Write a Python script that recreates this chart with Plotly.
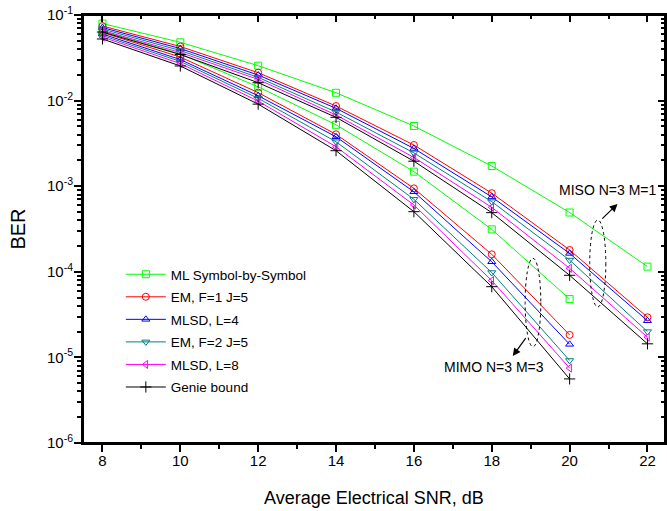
import plotly.graph_objects as go

# ---- data ----
snr_miso = [8, 10, 12, 14, 16, 18, 20, 22]
snr_mimo = [8, 10, 12, 14, 16, 18, 20]

series_names = ["ML Symbol-by-Symbol", "EM, F=1 J=5", "MLSD, L=4", "EM, F=2 J=5", "MLSD, L=8", "Genie bound"]

miso_ml   = [0.0796, 0.0480, 0.0256, 0.01236, 0.00505, 0.00172, 0.000493, 0.000115]
miso_em1  = [0.0744, 0.0429, 0.0212, 0.00865, 0.00303, 0.00083, 0.000180, 0.0000294]
miso_ml4  = [0.0714, 0.0406, 0.0199, 0.00813, 0.00276, 0.00075, 0.000164, 0.0000268]
miso_em2  = [0.0686, 0.0385, 0.0187, 0.00736, 0.00245, 0.00066, 0.000137, 0.0000200]
miso_ml8  = [0.0659, 0.0365, 0.0177, 0.00679, 0.00217, 0.000567, 0.000110, 0.0000172]
miso_gen  = [0.0633, 0.0346, 0.0162, 0.00638, 0.00196, 0.000491, 0.0000910, 0.0000144]

mimo_ml   = [0.0650, 0.0350, 0.0145, 0.00522, 0.00148, 0.000313, 0.0000480]
mimo_em1  = [0.0625, 0.0323, 0.0124, 0.00404, 0.000944, 0.000160, 0.0000183]
mimo_ml4  = [0.0600, 0.0302, 0.0114, 0.00378, 0.000860, 0.000131, 0.0000142]
mimo_em2  = [0.0576, 0.0287, 0.01064, 0.00331, 0.000703, 0.0000980, 0.0000092]
mimo_ml8  = [0.0553, 0.0271, 0.00988, 0.00289, 0.000603, 0.0000790, 0.0000075]
mimo_gen  = [0.0525, 0.0254, 0.00910, 0.00260, 0.000504, 0.0000670, 0.0000056]

y_tickvals = [1e-6, 1e-5, 1e-4, 1e-3, 1e-2, 1e-1]
y_ticktext = ["10<sup>-6</sup>", "10<sup>-5</sup>", "10<sup>-4</sup>", "10<sup>-3</sup>", "10<sup>-2</sup>", "10<sup>-1</sup>"]
x_tickvals = [8, 10, 12, 14, 16, 18, 20, 22]

# ---- styles ----
colors = ["#00FF00", "#FF0000", "#0000FF", "#008080", "#FF00FF", "#000000"]
symbols = ["square-open", "circle-open", "triangle-up-open", "triangle-down-open", "triangle-left-open", "cross-thin-open"]
miso_all = [miso_ml, miso_em1, miso_ml4, miso_em2, miso_ml8, miso_gen]
mimo_all = [mimo_ml, mimo_em1, mimo_ml4, mimo_em2, mimo_ml8, mimo_gen]

fig = go.Figure()
for i, name in enumerate(series_names):
    for j, (xs, ys) in enumerate([(snr_miso, miso_all[i]), (snr_mimo, mimo_all[i])]):
        fig.add_trace(go.Scatter(
            x=xs, y=ys, mode="lines+markers", name=name,
            legendgroup=name, showlegend=(j == 0),
            line=dict(color=colors[i], width=1),
            marker=dict(symbol=symbols[i], size=7 if i < 5 else 8, color=colors[i],
                        line=dict(color=colors[i], width=1)),
        ))

# invisible trace for mirror axes
fig.add_trace(go.Scatter(x=[8], y=[1e-3], xaxis="x2", yaxis="y2", mode="markers",
                         marker=dict(opacity=0), showlegend=False, hoverinfo="skip"))

minor_y = [m * 10 ** e for e in range(-6, -1) for m in range(2, 10)]
minor_x = [9, 11, 13, 15, 17, 19, 21]

font = "Liberation Sans, Arial, sans-serif"
axis_common = dict(showline=True, linecolor="black", linewidth=2, showgrid=False, zeroline=False,
                   tickcolor="black", tickwidth=1.5, automargin=False)
xr = [7.5, 22.45]
yr = [-6.0005, -0.9995]

fig.update_layout(
    width=667, height=511,
    margin=dict(l=83, r=2, t=15, b=68),
    paper_bgcolor="white", plot_bgcolor="white",
    font=dict(family=font, color="black", size=15),
    xaxis=dict(range=xr, tickmode="array", tickvals=x_tickvals, ticks="outside", ticklen=7,
               minor=dict(tickvals=minor_x, ticks="outside", ticklen=4, tickcolor="black", tickwidth=1.5),
               title=dict(text="Average Electrical SNR, dB", font=dict(size=18), standoff=23),
               ticklabelstandoff=-4,
               tickfont=dict(size=15), **axis_common),
    yaxis=dict(type="log", range=yr, tickmode="array", tickvals=y_tickvals, ticktext=y_ticktext,
               ticks="outside", ticklen=7,
               minor=dict(tickvals=minor_y, ticks="outside", ticklen=4, tickcolor="black", tickwidth=1.5),
               title=dict(text="BER", font=dict(size=20), standoff=16),
               ticklabelstandoff=-2,
               tickfont=dict(size=15), **axis_common),
    xaxis2=dict(overlaying="x", side="top", range=xr, tickmode="array", tickvals=x_tickvals,
                ticks="inside", ticklen=7, showticklabels=False,
                minor=dict(tickvals=minor_x, ticks="inside", ticklen=4, tickcolor="black", tickwidth=1.5),
                **axis_common),
    yaxis2=dict(overlaying="y", side="right", type="log", range=yr, tickmode="array",
                tickvals=y_tickvals, ticks="inside", ticklen=7, showticklabels=False,
                minor=dict(tickvals=minor_y, ticks="inside", ticklen=4, tickcolor="black", tickwidth=1.5),
                **axis_common),
    legend=dict(x=0.065, y=0.430, xanchor="left", yanchor="top", bgcolor="rgba(0,0,0,0)",
                font=dict(size=13.5), itemwidth=40, tracegroupgap=2),
    showlegend=True,
)

# frame
fig.add_shape(type="rect", xref="x domain", yref="y domain", x0=0, x1=1, y0=0, y1=1,
              line=dict(color="black", width=2), layer="above")

# ellipses (dotted)
fig.add_shape(type="circle", xref="x", yref="y", x0=20.516, x1=20.93, y0=3.88e-5, y1=4.03e-4,
              line=dict(color="black", width=1, dash="dot"))
fig.add_shape(type="circle", xref="x", yref="y", x0=18.857, x1=19.26, y0=1.33e-5, y1=1.44e-4,
              line=dict(color="black", width=1, dash="dot"))

# arrows
fig.add_annotation(x=21.23, y=-3.208, ax=20.80, ay=-3.395, xref="x", yref="y", axref="x", ayref="y",
                   text="", showarrow=True, arrowhead=2, arrowsize=1.3, arrowwidth=1.2, arrowcolor="black")
fig.add_annotation(x=18.54, y=-4.984, ax=18.90, ay=-4.758, xref="x", yref="y", axref="x", ayref="y",
                   text="", showarrow=True, arrowhead=2, arrowsize=1.3, arrowwidth=1.2, arrowcolor="black")
# labels
fig.add_annotation(x=20.98, y=-3.044, xref="x", yref="y", text="MISO N=3 M=1", showarrow=False,
                   font=dict(size=14))
fig.add_annotation(x=18.06, y=-5.112, xref="x", yref="y", text="MIMO N=3 M=3", showarrow=False,
                   font=dict(size=14))

fig.write_html("out.html", config={"displayModeBar": False},
               post_script="document.body.style.margin='0px';document.body.style.overflow='hidden';")
